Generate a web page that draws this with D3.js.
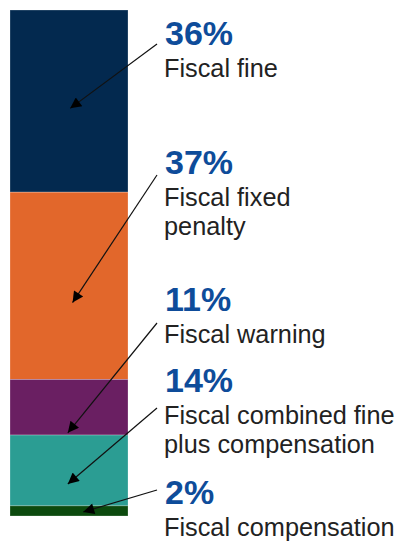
<!DOCTYPE html>
<html>
<head>
<meta charset="utf-8">
<script src="https://cdn.jsdelivr.net/npm/d3@7"></script>
<style>
  html, body { margin: 0; padding: 0; background: #ffffff; }
  svg { display: block; }
</style>
</head>
<body>
<script>
// Share of fiscal sanctions by type (single stacked column)
const categories = ["Fiscal fine", "Fiscal fixed penalty", "Fiscal warning",
                    "Fiscal combined fine plus compensation", "Fiscal compensation"];
const shares = [36, 37, 11, 14, 2];
const labelLines = [["Fiscal fine"], ["Fiscal fixed", "penalty"], ["Fiscal warning"],
                    ["Fiscal combined fine", "plus compensation"], ["Fiscal compensation"]];
const colors = ["#03294f", "#e2672b", "#6a1f62", "#2b9d93", "#0c4a0e"];

// annotation layout: baseline of each percentage label, arrow start, and where in the segment the arrow points
const pctBaseline = [45, 174, 311, 392, 504];
const arrowStartY = [44, 175, 323, 408, 490];
const tipFracY = [0.54, 0.59, 0.96, 0.69, 0.6];
const tipFracX = [0.51, 0.53, 0.49, 0.49, 0.62];

const W = 399, H = 541;
const svg = d3.select("body").append("svg").attr("width", W).attr("height", H);

const x = d3.scaleBand().domain(["all"]).range([10, 128]).padding(0);
const y = d3.scaleLinear().domain([0, d3.sum(shares)]).range([10, 516]);

let acc = 0;
const segs = shares.map((v, i) => {
  const s = { i, v, y0: acc, y1: acc + v };
  acc += v;
  return s;
});

svg.append("defs").append("marker")
  .attr("id", "head")
  .attr("viewBox", "0 0 10 10")
  .attr("refX", 10).attr("refY", 5)
  .attr("markerWidth", 14).attr("markerHeight", 11)
  .attr("markerUnits", "userSpaceOnUse")
  .attr("orient", "auto")
  .append("path").attr("d", "M0,0 L10,5 L0,10 Z").attr("fill", "#000");

svg.append("g").selectAll("rect").data(segs).join("rect")
  .attr("x", x("all"))
  .attr("width", x.bandwidth())
  .attr("y", d => y(d.y0))
  .attr("height", d => y(d.y1) - y(d.y0))
  .attr("fill", d => colors[d.i])
  .attr("stroke", "rgba(255,255,255,0.35)")
  .attr("stroke-width", 0.7);

// arrows from labels into segments
svg.append("g").selectAll("line").data(segs).join("line")
  .attr("x1", 157)
  .attr("y1", d => arrowStartY[d.i])
  .attr("x2", d => x("all") + tipFracX[d.i] * x.bandwidth())
  .attr("y2", d => y(d.y0 + tipFracY[d.i] * d.v))
  .attr("stroke", "#111")
  .attr("stroke-width", 1.2)
  .attr("marker-end", "url(#head)");

const lab = svg.append("g").attr("font-family", "Liberation Sans, Arial, sans-serif");
segs.forEach(d => {
  lab.append("text")
    .attr("x", 165)
    .attr("y", pctBaseline[d.i])
    .attr("font-size", 34)
    .attr("font-weight", "bold")
    .attr("fill", "#0e4c9a")
    .text(d.v + "%");
  labelLines[d.i].forEach((line, k) => {
    lab.append("text")
      .attr("x", 164)
      .attr("y", pctBaseline[d.i] + 32 + k * 29)
      .attr("font-size", 25.3)
      .attr("fill", "#222")
      .text(line);
  });
});
</script>
</body>
</html>
